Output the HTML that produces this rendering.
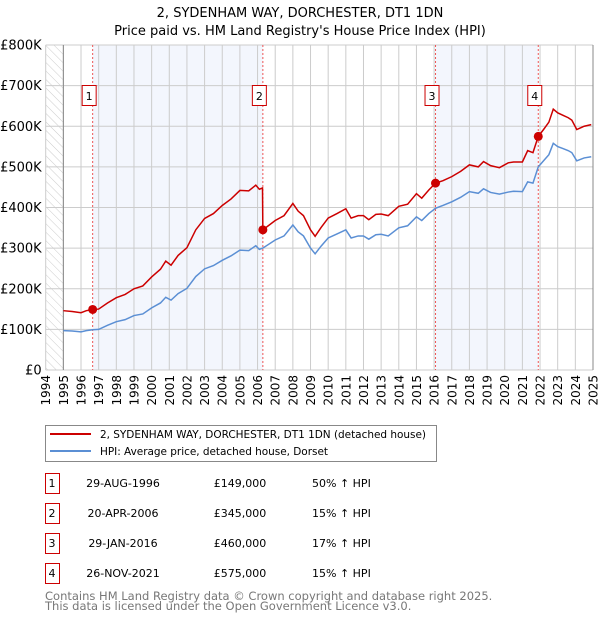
<!DOCTYPE html>
<html><head><meta charset="utf-8"><style>
body{margin:0;background:#fff;font-family:"Liberation Sans","DejaVu Sans",sans-serif;}
svg text{font-family:"DejaVu Sans","Liberation Sans",sans-serif;}
</style></head><body>
<svg id="c" width="600" height="620" viewBox="0 0 600 620" xmlns="http://www.w3.org/2000/svg">
<defs><pattern id="hatch" width="6" height="6" patternUnits="userSpaceOnUse" patternTransform="rotate(-45)"><line x1="0" y1="0" x2="0" y2="6" stroke="#ccc" stroke-width="1"/></pattern></defs>
<text x="300" y="17" text-anchor="middle" font-size="13">2, SYDENHAM WAY, DORCHESTER, DT1 1DN</text>
<text x="300" y="35" text-anchor="middle" font-size="13">Price paid vs. HM Land Registry's House Price Index (HPI)</text>
<g id="plot"></g>
<g>
<rect x="45.5" y="425.5" width="391" height="36" fill="#fff" stroke="#888"/>
<line x1="50" y1="434" x2="91" y2="434" stroke="#cc0000" stroke-width="2"/>
<text x="100" y="438" font-size="10.5" textLength="326">2, SYDENHAM WAY, DORCHESTER, DT1 1DN (detached house)</text>
<line x1="50" y1="451" x2="91" y2="451" stroke="#5b8fd4" stroke-width="2"/>
<text x="100" y="455" font-size="10.5" textLength="228">HPI: Average price, detached house, Dorset</text>
</g>
<g id="table" font-size="11"></g>
<text x="45" y="600" font-size="11.5" fill="#777">Contains HM Land Registry data © Crown copyright and database right 2025.</text>
<text x="45" y="610" font-size="11.5" fill="#777">This data is licensed under the Open Government Licence v3.0.</text>
</svg>
<script>
const hpiYears=[1995.0,1995.5,1996.0,1996.3,1996.66,1997.0,1997.5,1998.0,1998.5,1999.0,1999.5,2000.0,2000.5,2000.8,2001.1,2001.5,2002.0,2002.5,2003.0,2003.5,2004.0,2004.5,2005.0,2005.5,2005.9,2006.1,2006.3,2007.0,2007.5,2008.0,2008.3,2008.6,2009.0,2009.26,2009.6,2010.0,2010.5,2011.0,2011.3,2011.7,2012.0,2012.3,2012.7,2013.0,2013.4,2014.0,2014.5,2015.0,2015.3,2015.7,2016.08,2016.5,2017.0,2017.5,2018.0,2018.5,2018.8,2019.2,2019.7,2020.2,2020.5,2021.0,2021.3,2021.6,2021.9,2022.2,2022.5,2022.75,2023.0,2023.3,2023.6,2023.8,2024.08,2024.5,2024.9];
const hpiValues=[97,96,94,97,99,100,110,119,124,134,138,153,165,179,172,188,201,230,249,257,270,281,295,294,306,297,300,320,330,357,340,330,300,286,305,325,335,345,325,330,330,322,333,334,330,350,355,377,368,385,398,405,414,425,439,435,446,437,433,438,440,439,463,460,500,515,530,558,550,545,540,535,515,522,525];
const priceYears=[1995.0,1995.5,1996.0,1996.3,1996.66,1997.0,1997.5,1998.0,1998.5,1999.0,1999.5,2000.0,2000.5,2000.8,2001.1,2001.5,2002.0,2002.5,2003.0,2003.5,2004.0,2004.5,2005.0,2005.5,2005.9,2006.1,2006.28,2006.3,2007.0,2007.5,2008.0,2008.3,2008.6,2009.0,2009.26,2009.6,2010.0,2010.5,2011.0,2011.3,2011.7,2012.0,2012.3,2012.7,2013.0,2013.4,2014.0,2014.5,2015.0,2015.3,2015.7,2016.08,2016.5,2017.0,2017.5,2018.0,2018.5,2018.8,2019.2,2019.7,2020.2,2020.5,2021.0,2021.3,2021.6,2021.9,2022.2,2022.5,2022.75,2023.0,2023.3,2023.6,2023.8,2024.08,2024.5,2024.9];
const priceValues=[146,144,141,146,149,150,165,178,186,200,207,229,248,268,258,282,301,345,373,385,405,421,442,441,455,445,448,345,368,380,410,391,380,345,329,351,374,385,397,374,380,380,370,383,384,380,403,408,434,423,443,460,466,476,489,505,500,513,503,498,510,512,512,540,535,575,592,610,642,633,627,621,615,592,600,604];
const saleYears=[1996.66,2006.3,2016.08,2021.9];
const salePrices=[149,345,460,575];
const saleLabels=["1","2","3","4"];
const saleDates=["29-AUG-1996","20-APR-2006","29-JAN-2016","26-NOV-2021"];
const salePriceText=["£149,000","£345,000","£460,000","£575,000"];
const saleHpiText=["50% ↑ HPI","15% ↑ HPI","17% ↑ HPI","15% ↑ HPI"];
const yTicks=[0,100,200,300,400,500,600,700,800];
const yTickLabels=["£0","£100K","£200K","£300K","£400K","£500K","£600K","£700K","£800K"];
const xTicks=[1994,1995,1996,1997,1998,1999,2000,2001,2002,2003,2004,2005,2006,2007,2008,2009,2010,2011,2012,2013,2014,2015,2016,2017,2018,2019,2020,2021,2022,2023,2024,2025];

const NS="http://www.w3.org/2000/svg";
const L=45.7,R=593,T=45,B=370;
const xs=y=>L+(y-1994)*(R-L)/31;
const ys=v=>B-v*(B-T)/800;
const g=document.getElementById('plot');
function mk(tag,attrs,parent){const e=document.createElementNS(NS,tag);for(const k in attrs)e.setAttribute(k,attrs[k]);(parent||g).appendChild(e);return e;}

let r=mk('rect',{x:L,y:T,width:xs(1995)-L,height:B-T,fill:'url(#hatch)'});


for(let i=0;i<saleYears.length;i+=2){
  const s=mk('rect',{x:xs(saleYears[i]),y:T,width:xs(saleYears[i+1])-xs(saleYears[i]),height:B-T,fill:'#f3f6fd'});
  
  
}
yTicks.forEach((v,i)=>{
  const l=mk('line',{x1:L,x2:R,y1:ys(v),y2:ys(v),stroke:'#ccc','stroke-width':1});
  
  
  const t=mk('text',{x:L-4,y:ys(v)+4.5,'text-anchor':'end','font-size':13});
  t.textContent=yTickLabels[i];
  
  
});
xTicks.forEach(yr=>{
  const l=mk('line',{x1:xs(yr),x2:xs(yr),y1:T,y2:B,stroke:'#ccc','stroke-width':1});
  
  
  const t=mk('text',{x:0,y:0,'text-anchor':'end','font-size':12,transform:`translate(${xs(yr)+4.5},375) rotate(-90)`});
  t.textContent=yr;
  
  
});
let ax=mk('line',{x1:xs(1995),x2:xs(1995),y1:T,y2:B,stroke:'#888'});


let ax2=mk('line',{x1:R,x2:R,y1:T,y2:B,stroke:'#888'});


saleYears.forEach((yr,i)=>{
  const l=mk('line',{x1:xs(yr),x2:xs(yr),y1:T,y2:B,stroke:'#e55','stroke-width':1,'stroke-dasharray':'2,2'});
  
  
});
const hp=mk('polyline',{points:hpiYears.map((y,i)=>xs(y)+','+ys(hpiValues[i])).join(' '),fill:'none',stroke:'#5b8fd4','stroke-width':1.5});


const pp=mk('polyline',{points:priceYears.map((y,i)=>xs(y)+','+ys(priceValues[i])).join(' '),fill:'none',stroke:'#cc0000','stroke-width':1.5});


saleYears.forEach((yr,i)=>{
  const c=mk('circle',{cx:xs(yr),cy:ys(salePrices[i]),r:4.5,fill:'#cc0000'});
  
  
  const b=mk('rect',{x:xs(yr)-10.5,y:85.5,width:14,height:20,fill:'#fff',stroke:'#cc0000'});
  
  
  const t=mk('text',{x:xs(yr)-3.5,y:100,'text-anchor':'middle','font-size':11});
  t.textContent=saleLabels[i];
  
  
});
const tb=document.getElementById('table');
saleLabels.forEach((lab,i)=>{
  const cy=483+i*30;
  const b=mk('rect',{x:45.5,y:cy-9.5,width:14,height:20,fill:'#fff',stroke:'#cc0000'},tb);
  
  
  const cells=[[52,lab,'middle'],[123,saleDates[i],'middle'],[240,salePriceText[i],'middle'],[312,saleHpiText[i],'start']];
  cells.forEach(([x,txt,a],j)=>{
    const t=mk('text',{x:x,y:cy+4,'text-anchor':a,'font-size':11},tb);
    t.textContent=txt;
    
    
  });
});
</script>
</body></html>
